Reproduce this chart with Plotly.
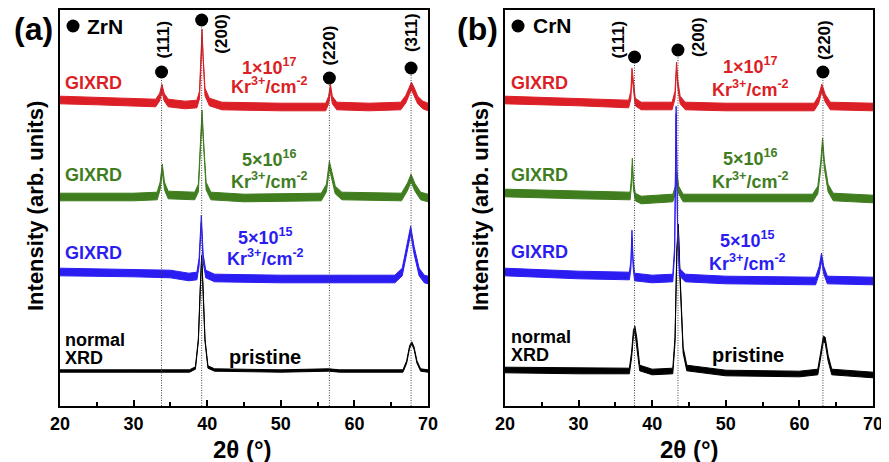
import plotly.graph_objects as go

# ---------------- data (2θ in degrees, intensity in arbitrary offset units) ----------------
two_theta_ticks = [20, 30, 40, 50, 60, 70]

# Panel (a) ZrN
zrn_red_x = [20, 25, 30, 33.0, 33.55, 33.85, 34.15, 34.7, 37, 38.6, 38.95, 39.15, 39.3, 39.45, 39.7, 40.3, 42, 50,
             56.1, 56.5, 56.75, 57.0, 57.6, 62, 66.3, 67.0, 67.5, 67.75, 68.1, 68.6, 69.3, 70]
zrn_red_y = [306, 305, 304, 303, 309, 318, 309, 303, 301, 302, 311, 346, 373, 346, 314, 304, 300, 299,
             299, 306, 318, 306, 300, 299, 300, 307, 316, 320, 315, 306, 301, 299]

zrn_green_x = [20, 30, 33.2, 33.6, 33.9, 34.2, 34.7, 38.3, 38.8, 39.05, 39.3, 39.55, 39.85, 40.5, 45, 55.5,
               56.2, 56.6, 56.9, 57.4, 58.3, 66.4, 67.2, 67.7, 68.2, 69, 70]
zrn_green_y = [209, 209, 210, 220, 238, 220, 211, 210, 218, 256, 292, 256, 220, 210, 208, 209,
               218, 241, 231, 216, 210, 209, 219, 228, 219, 210, 208]

zrn_blue_x = [20, 30, 35, 37.5, 38.6, 38.9, 39.2, 39.45, 39.8, 41, 50, 60, 65.5, 66.5, 67.2, 67.65, 68.1, 68.8,
              69.5, 70]
zrn_blue_y = [134, 133, 132, 129, 130, 144, 187, 148, 132, 128, 127, 127, 127, 134, 158, 176, 156, 134, 127, 126]

zrn_black_x = [20, 30, 37.6, 38.4, 38.8, 39.05, 39.25, 39.45, 39.7, 40.1, 41, 50, 56.5, 58, 66.6, 67.1, 67.5,
               67.8, 68.1, 68.5, 69, 70]
zrn_black_y = [35, 35, 35, 38, 66, 116, 150, 116, 66, 39, 36, 35, 36, 35, 35, 44, 59, 63, 58, 44, 36, 35]

zrn_peak_pos = [33.8, 39.25, 56.6, 67.7]
zrn_peak_hkl = ["(111)", "(200)", "(220)", "(311)"]
zrn_marker_y = [334, 386, 328, 338]

# Panel (b) CrN
crn_red_x = [20, 30, 36.8, 37.1, 37.25, 37.45, 37.7, 38.5, 42.7, 43.1, 43.3, 43.5, 43.8, 44.5, 50, 62.0, 62.6,
             63.05, 63.5, 64.2, 70]
crn_red_y = [306, 304, 302, 311, 334, 321, 304, 300, 300, 311, 340, 321, 306, 300, 299, 299, 306, 318, 308, 300,
             299]

crn_green_x = [20, 30, 37.0, 37.2, 37.3, 37.45, 37.7, 38.5, 42.8, 43.15, 43.35, 43.6, 44.2, 50, 61.8, 62.5, 62.9,
               63.15, 63.4, 63.9, 64.6, 70]
crn_green_y = [213, 211, 210, 226, 244, 221, 209, 206, 208, 216, 230, 216, 208, 208, 208, 216, 241, 264, 241, 218,
               209, 207]

crn_blue_x = [20, 30, 36.9, 37.1, 37.25, 37.4, 37.6, 40, 42.8, 43.05, 43.25, 43.45, 43.7, 44.5, 50, 62.2, 62.7,
              63.0, 63.3, 63.8, 70]
crn_blue_y = [134, 131, 130, 141, 172, 144, 129, 127, 128, 156, 296, 176, 134, 128, 126, 125, 136, 149, 136, 126,
              125]

crn_black_x = [20, 30, 36.9, 37.2, 37.45, 37.65, 37.9, 38.3, 40, 42.8, 43.1, 43.35, 43.55, 43.8, 44.2, 44.7, 50, 60,
               62.5, 62.9, 63.25, 63.5, 63.9, 64.4, 70]
crn_black_y = [36, 35, 35, 51, 73, 77, 66, 38, 34, 35, 66, 156, 179, 126, 56, 38, 33, 32, 34, 51, 67, 66, 48, 34,
               31]

crn_peak_pos = [37.6, 43.5, 63.2]
crn_peak_hkl = ["(111)", "(200)", "(220)"]
crn_marker_y = [349, 356, 334]

series_names = ["GIXRD", "GIXRD", "GIXRD", "normal XRD"]
dose_labels = ["1×10<sup>17</sup>", "5×10<sup>16</sup>", "5×10<sup>15</sup>", "pristine"]
ion_unit = "Kr<sup>3+</sup>/cm<sup>-2</sup>"

# ---------------- style ----------------
RED, GREEN, BLUE, BLACK = "#dc1f26", "#3f7d1f", "#2b1df2", "#000000"
FONT = "Arial, 'Liberation Sans', sans-serif"
OFF = 8                      # the page body adds an 8 px margin around the figure
W, H = 889 - OFF, 462 - OFF  # figure size so that the page fills the 889x462 window
band_hw = {"a": [3.8, 3.8, 3.8, 1.2], "b": [3.8, 3.8, 3.8, 2.8]}


def px_x(px):  # window pixel -> paper x
    return (px - OFF) / W


def px_y(py):  # window pixel -> paper y
    return 1 - (py - OFF) / H


fig = go.Figure()

panels = {
    "a": dict(xa="x", ya="y",
              curves=[(zrn_black_x, zrn_black_y, BLACK, 3), (zrn_green_x, zrn_green_y, GREEN, 1),
                      (zrn_red_x, zrn_red_y, RED, 0), (zrn_blue_x, zrn_blue_y, BLUE, 2)],
              peaks=zrn_peak_pos, hkl=zrn_peak_hkl, my=zrn_marker_y,
              shifts=[(1, 32), (19, -14), (0, 33), (0, 35)]),
    "b": dict(xa="x2", ya="y2",
              curves=[(crn_black_x, crn_black_y, BLACK, 3), (crn_green_x, crn_green_y, GREEN, 1),
                      (crn_red_x, crn_red_y, RED, 0), (crn_blue_x, crn_blue_y, BLUE, 2)],
              peaks=crn_peak_pos, hkl=crn_peak_hkl, my=crn_marker_y,
              shifts=[(-17, 17), (20, 13), (1, 32)]),
}

for key, p in panels.items():
    # curves drawn as a noise band (closed polygon around the centre line)
    for xs, ys, col, idx in p["curves"]:
        hw = band_hw[key][idx]
        px = list(xs) + list(xs)[::-1]
        py = [v + hw for v in ys] + [v - hw for v in ys][::-1]
        fig.add_trace(go.Scatter(x=px, y=py, mode="lines", fill="toself", fillcolor=col,
                                 line=dict(color=col, width=1), xaxis=p["xa"], yaxis=p["ya"],
                                 hoverinfo="skip", showlegend=False))
    # dotted reference lines
    for pos, my in zip(p["peaks"], p["my"]):
        fig.add_trace(go.Scatter(x=[pos, pos], y=[0, my - 7], mode="lines",
                                 line=dict(color="#444444", width=1, dash="1px,1.5px"),
                                 xaxis=p["xa"], yaxis=p["ya"], hoverinfo="skip", showlegend=False))
    # peak markers
    fig.add_trace(go.Scatter(x=p["peaks"], y=p["my"], mode="markers",
                             marker=dict(color="black", size=13), xaxis=p["xa"], yaxis=p["ya"],
                             hoverinfo="skip", showlegend=False))
    for pos, my, lab, (dx, dy) in zip(p["peaks"], p["my"], p["hkl"], p["shifts"]):
        fig.add_annotation(x=pos, y=my, xref=p["xa"], yref=p["ya"], text=f"<b>{lab}</b>", textangle=-90,
                           showarrow=False, xshift=dx, yshift=dy, xanchor="center", yanchor="middle",
                           font=dict(family=FONT, size=17, color="black"))
    # phase legend dot
    fig.add_trace(go.Scatter(x=[21.77], y=[380], mode="markers", marker=dict(color="black", size=13),
                             xaxis=p["xa"], yaxis=p["ya"], hoverinfo="skip", showlegend=False))

phase_names = {"a": "ZrN", "b": "CrN"}


def ann(key, x, y, text, color, size=18, xanchor="center"):
    p = panels[key]
    fig.add_annotation(x=x, y=y, xref=p["xa"], yref=p["ya"], text=f"<b>{text}</b>", showarrow=False,
                       xanchor=xanchor, yanchor="middle", font=dict(family=FONT, size=size, color=color))


cols = [RED, GREEN, BLUE]
# panel a texts
ann("a", 23.4, 380, phase_names["a"], BLACK, 21, "left")
for col, yv in zip(cols, [323, 231, 153]):
    ann("a", 20.35, yv, series_names[0], col, 18, "left")
ann("a", 20.35, 66, "normal", BLACK, 18, "left")
ann("a", 20.35, 48, "XRD", BLACK, 18, "left")
for col, lab, (yd_, yk), xc in zip(cols, dose_labels[:3], [(340, 321), (248, 226), (170, 149)],
                                   [48.4, 48.4, 47.9]):
    ann("a", xc, yd_, lab, col, 18)
    ann("a", xc, yk, ion_unit, col, 18)
ann("a", 47.85, 49, dose_labels[3], BLACK, 20)

# panel b texts
ann("b", 23.5, 381, phase_names["b"], BLACK, 21, "left")
for col, yv in zip(cols, [323, 231, 154]):
    ann("b", 20.6, yv, series_names[0], col, 18, "left")
ann("b", 20.6, 69, "normal", BLACK, 18, "left")
ann("b", 20.6, 51, "XRD", BLACK, 18, "left")
for col, lab, (yd_, yk), xc in zip(cols, dose_labels[:3], [(341, 318), (249, 226), (167, 144)],
                                   [53.4, 53.4, 53.0]):
    ann("b", xc, yd_, lab, col, 18)
    ann("b", xc, yk, ion_unit, col, 18)
ann("b", 53.0, 51, dose_labels[3], BLACK, 20)

# panel letters and axis titles (paper coords)
for txt, xp in [("(a)", 33), ("(b)", 477)]:
    fig.add_annotation(x=px_x(xp), y=px_y(29), xref="paper", yref="paper", text=f"<b>{txt}</b>",
                       showarrow=False, xanchor="center", yanchor="middle",
                       font=dict(family=FONT, size=32, color="black"))
for xp in [35, 480]:
    fig.add_annotation(x=px_x(xp), y=px_y(206), xref="paper", yref="paper",
                       text="<b>Intensity (arb. units)</b>", textangle=-90, showarrow=False,
                       xanchor="center", yanchor="middle",
                       font=dict(family=FONT, size=22, color="black"))
for xp in [242, 689]:
    fig.add_annotation(x=px_x(xp), y=px_y(449), xref="paper", yref="paper", text="<b>2θ (°)</b>",
                       showarrow=False, xanchor="center", yanchor="middle",
                       font=dict(family=FONT, size=24, color="black"))

xcommon = dict(range=[20, 70], tickvals=two_theta_ticks, ticks="inside", ticklen=6, tickwidth=1.5,
               tickcolor="black", showline=True, linecolor="black", linewidth=1.8, mirror=True,
               showgrid=False, zeroline=False, ticklabelstandoff=0, automargin=False,
               tickfont=dict(family=FONT, size=18, color="black", weight="bold"),
               minor=dict(dtick=5, ticks="inside", ticklen=4, tickwidth=1.5, tickcolor="black", showgrid=False))
ycommon = dict(range=[0, 396], showticklabels=False, ticks="", showline=True, linecolor="black",
               linewidth=1.8, mirror=True, showgrid=False, zeroline=False, automargin=False)

ydom = [px_y(406), px_y(10)]
fig.update_layout(
    width=W, height=H, margin=dict(l=0, r=0, t=0, b=0, autoexpand=False),
    paper_bgcolor="white", plot_bgcolor="white", showlegend=False,
    xaxis=dict(domain=[px_x(60), px_x(428)], anchor="y", **xcommon),
    yaxis=dict(domain=ydom, anchor="x", **ycommon),
    xaxis2=dict(domain=[px_x(505), px_x(873)], anchor="y2", **xcommon),
    yaxis2=dict(domain=ydom, anchor="x2", **ycommon),
)

fig.write_html("out.html")
